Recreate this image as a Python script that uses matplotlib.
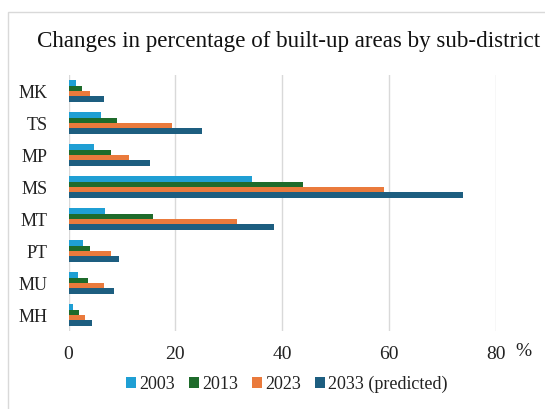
import numpy as np
import matplotlib
matplotlib.use("Agg")
import matplotlib.pyplot as plt
from matplotlib.patches import Rectangle

plt.rcParams["font.family"] = ["Liberation Serif", "DejaVu Serif"]

# porcentaje de area construida por subdistrito
districts = ["MK", "TS", "MP", "MS", "MT", "PT", "MU", "MH"]
years = ["2003", "2013", "2023", "2033 (predicted)"]
v2003 = [1.4, 6.1, 4.7, 34.3, 6.8, 2.7, 1.7, 0.9]
v2013 = [2.6, 9.1, 8.0, 43.8, 15.9, 4.1, 3.6, 1.9]
v2023 = [4.1, 19.4, 11.3, 59.1, 31.5, 8.0, 6.7, 3.0]
v2033 = [6.6, 24.9, 15.2, 73.8, 38.5, 9.4, 8.6, 4.4]
colores = ["#1f9fd4", "#1e6b2b", "#ea7a3c", "#1d5e80"]

fig = plt.figure(figsize=(5.45, 4.09), dpi=100)
ax = fig.add_axes([68.5 / 545, 1 - 331 / 409, (496 - 68.5) / 545, 256 / 409])

# marco del grafico
fig.patches.append(Rectangle((8 / 545, -0.05), 1.1, 1.05 - 12 / 409,
                             transform=fig.transFigure, fill=False,
                             edgecolor="#d9d9d9", linewidth=1.0))

y = np.arange(len(districts))
alto = 0.17
series = [v2003, v2013, v2023, v2033]
for i, (vals, c, lab) in enumerate(zip(series, colores, years)):
    ax.barh(y - 1.5 * alto + i * alto, vals, height=alto, color=c, label=lab)

ax.set_ylim(len(districts) - 0.5, -0.5)
ax.set_xlim(0, 80)
ax.set_xticks([0, 20, 40, 60, 80])
ax.set_yticks(y)
ax.set_yticklabels(districts)
ax.tick_params(axis="both", length=0, colors="#222222")
ax.tick_params(axis="x", pad=11, labelsize=14)
ax.tick_params(axis="y", pad=15, labelsize=13)
ax.grid(axis="x", color="#d9d9d9", linewidth=1.0)
ax.set_axisbelow(True)
for s in ax.spines.values():
    s.set_visible(False)

fig.text(523 / 545, 1 - 352 / 409, "%", ha="center", va="center", fontsize=14, color="#222222")
fig.text(289 / 545, 1 - 42 / 409, "Changes in percentage of built-up areas by sub-district",
         ha="center", va="center", fontsize=16.6, color="#111111")

fig.legend(loc="center", bbox_to_anchor=(287 / 545, 1 - 384 / 409), ncol=4,
           frameon=False, fontsize=13, handlelength=0.55, handleheight=0.55,
           handletextpad=0.15, columnspacing=0.8, labelcolor="#222222")

plt.savefig("out.png", dpi=100)
